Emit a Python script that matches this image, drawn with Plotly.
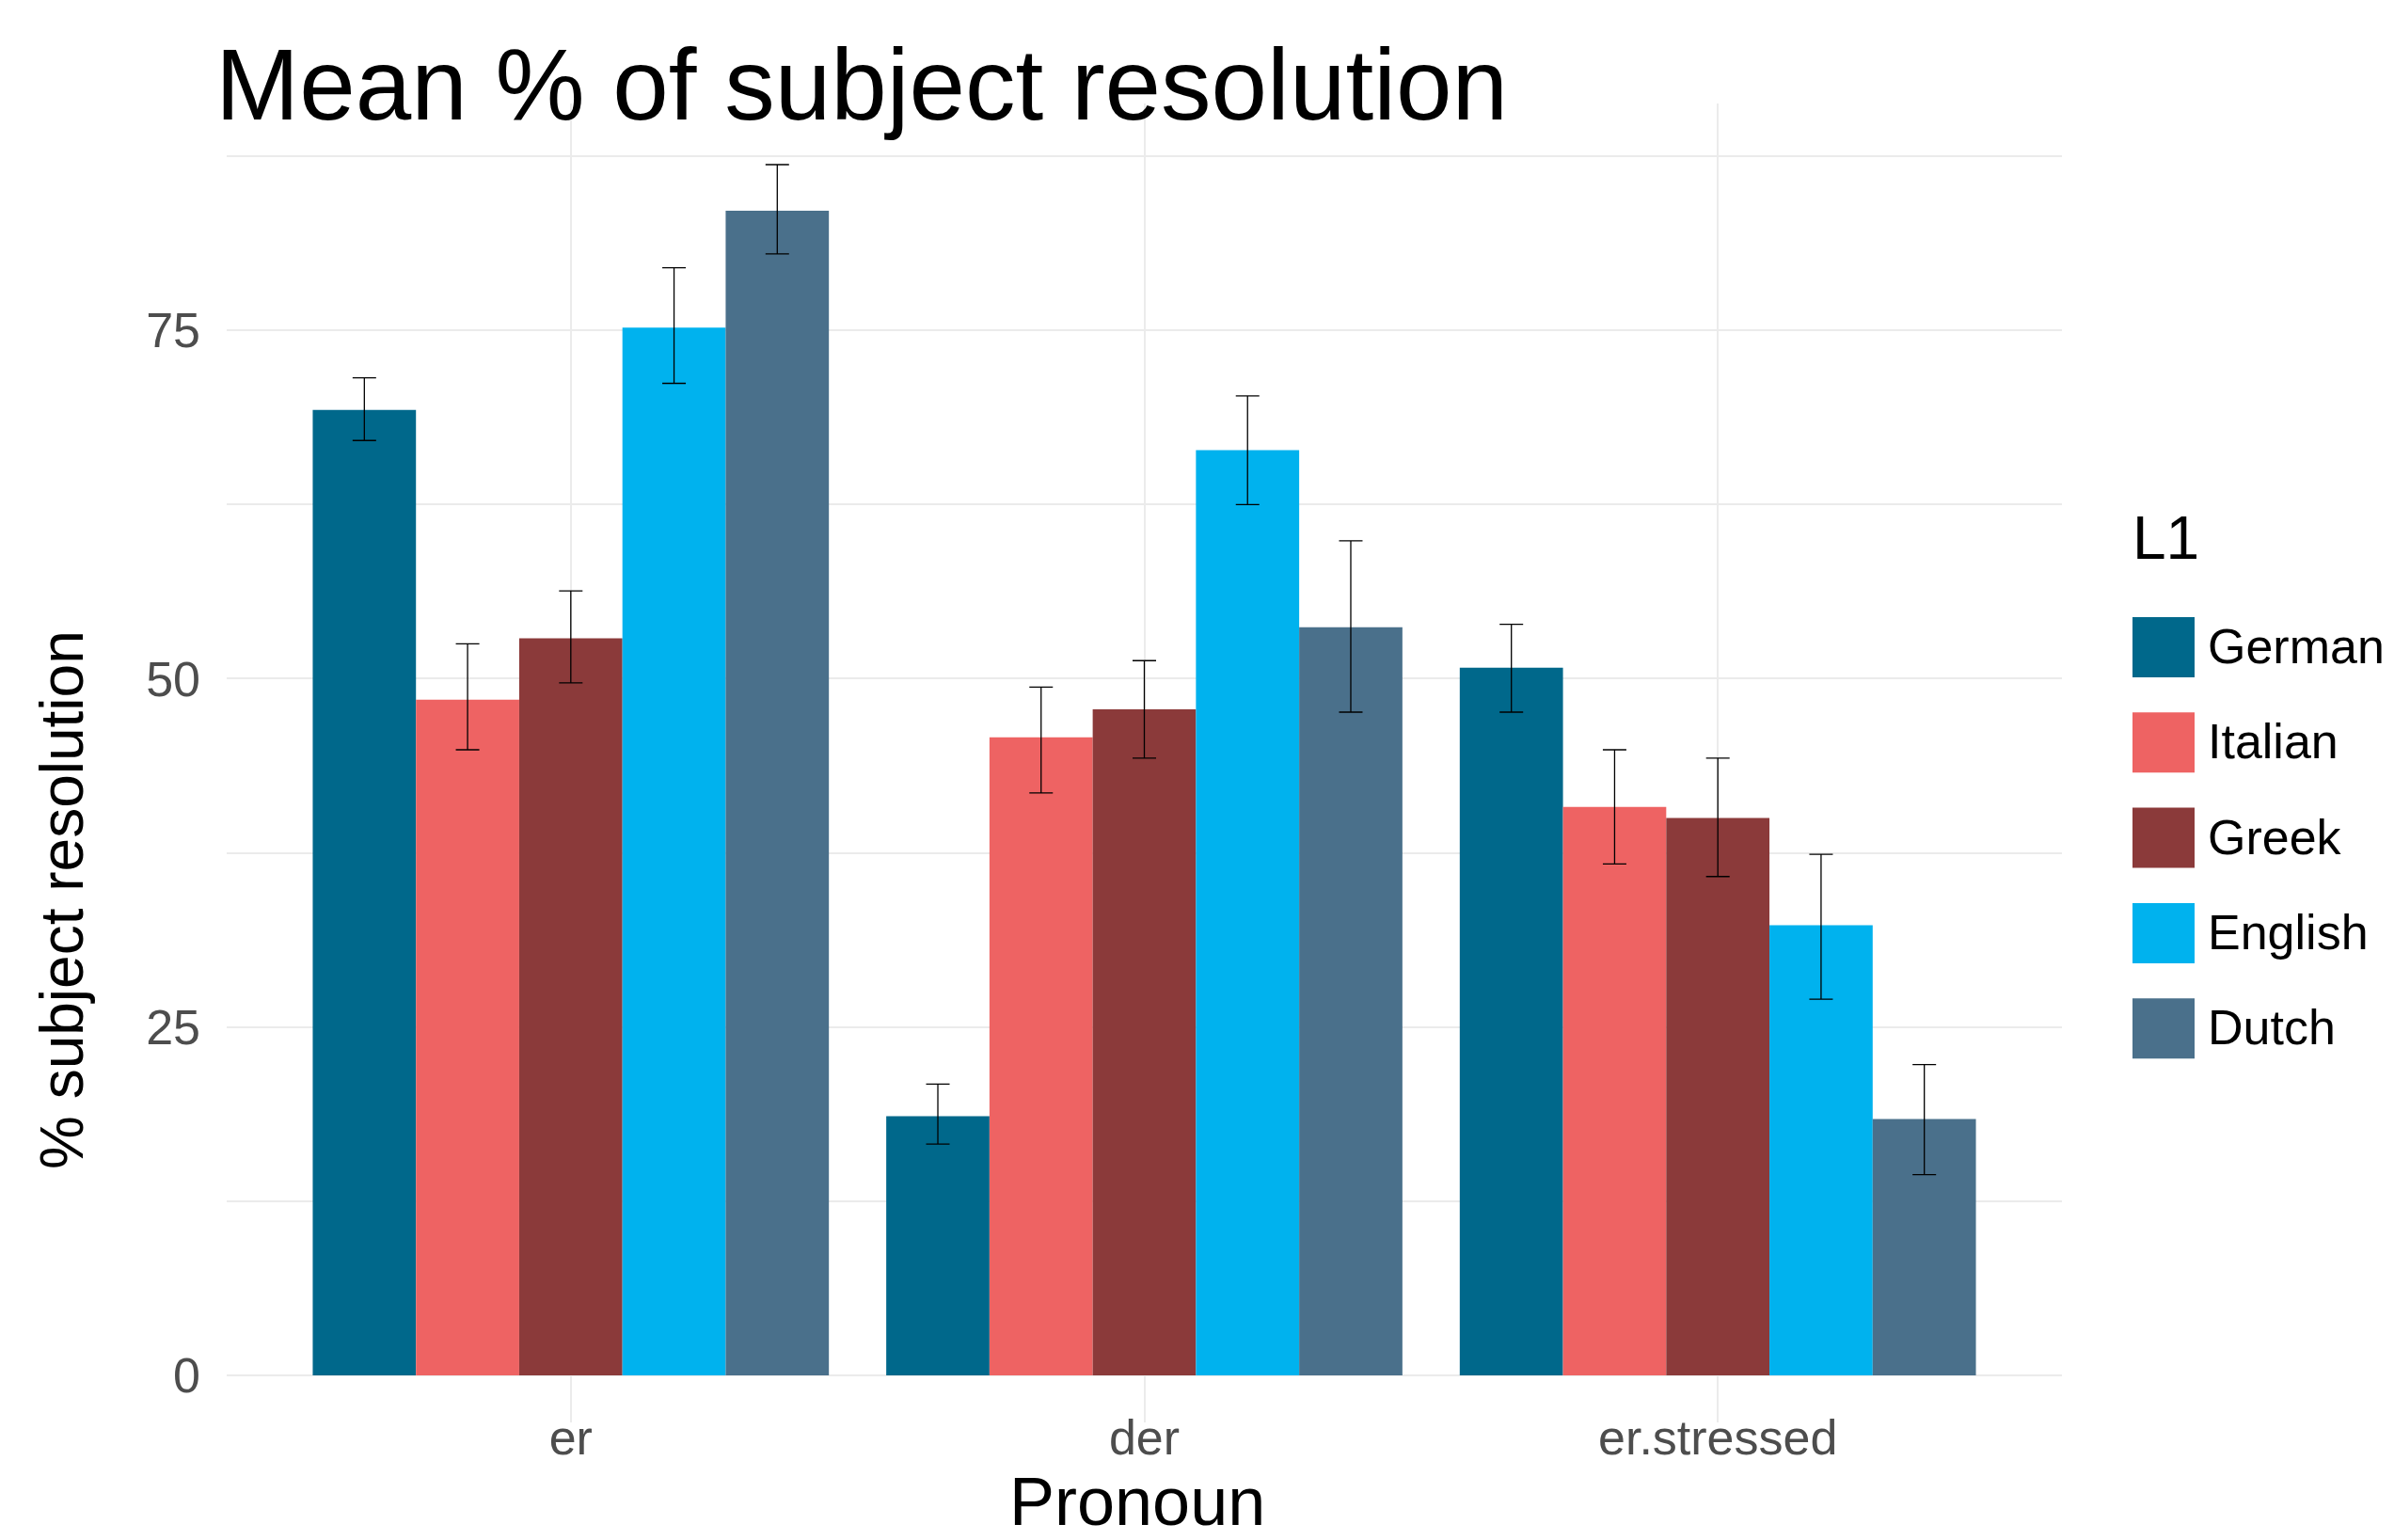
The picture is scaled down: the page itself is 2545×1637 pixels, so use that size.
import plotly.graph_objects as go

# ---------------- data ----------------
pronouns = ["er", "der", "er.stressed"]
groups = ["German", "Italian", "Greek", "English", "Dutch"]
colors = ["#00688B", "#EE6363", "#8B3A3A", "#00B2EE", "#4A708B"]

mean_german = [69.3, 18.6, 50.8]
mean_italian = [48.5, 45.8, 40.8]
mean_greek = [52.9, 47.8, 40.0]
mean_english = [75.2, 66.4, 32.3]
mean_dutch = [83.6, 53.7, 18.4]

upper_german = [71.6, 20.9, 53.9]
upper_italian = [52.5, 49.4, 44.9]
upper_greek = [56.3, 51.3, 44.3]
upper_english = [79.5, 70.3, 37.4]
upper_dutch = [86.9, 59.9, 22.3]

lower_german = [67.1, 16.6, 47.6]
lower_italian = [44.9, 41.8, 36.7]
lower_greek = [49.7, 44.3, 35.8]
lower_english = [71.2, 62.5, 27.0]
lower_dutch = [80.5, 47.6, 14.4]

y_ticks = [0, 25, 50, 75]
y_minor = [12.5, 37.5, 62.5, 87.5]

means = [mean_german, mean_italian, mean_greek, mean_english, mean_dutch]
uppers = [upper_german, upper_italian, upper_greek, upper_english, upper_dutch]
lowers = [lower_german, lower_italian, lower_greek, lower_english, lower_dutch]

# ---------------- layout geometry (pixels) ----------------
W, H = 2545, 1637
L, R, T, B = 241, 2192, 110, 1512
PW, PH = R - L, B - T

def px_x(px):
    return (px - L) / PW

def px_y(py):
    return (B - py) / PH

FONT = "Liberation Sans, Arial, Helvetica, sans-serif"

fig = go.Figure()
for name, col, m, u, lo in zip(groups, colors, means, uppers, lowers):
    fig.add_trace(go.Bar(
        x=pronouns, y=m, name=name,
        marker=dict(color=col, line=dict(width=0)),
        error_y=dict(type="data", symmetric=False,
                     array=[a - b for a, b in zip(u, m)],
                     arrayminus=[b - c for b, c in zip(m, lo)],
                     color="black", thickness=1.3, width=12.5),
        showlegend=False,
    ))

fig.update_layout(
    width=W, height=H,
    margin=dict(l=L, r=W - R, t=T, b=H - B, pad=0),
    paper_bgcolor="white", plot_bgcolor="white",
    barmode="group", bargap=0.1, bargroupgap=0,
    font=dict(family=FONT, color="black"),
    title=dict(text="Mean % of subject resolution",
               font=dict(family=FONT, size=107, color="black"),
               xref="container", x=229 / W, xanchor="left",
               yref="container", y=1 - 127 / H, yanchor="bottom"),
    xaxis=dict(range=[-0.6, 2.6], showgrid=True, gridcolor="#EBEBEB", gridwidth=2,
               ticks="", showline=False, zeroline=False,
               tickfont=dict(family=FONT, size=52, color="#4D4D4D"),
               ticklabelstandoff=-19),
    yaxis=dict(range=[-3.38, 91.29], tickvals=y_ticks, ticktext=[str(v) for v in y_ticks],
               showgrid=True, gridcolor="#EBEBEB", gridwidth=2,
               minor=dict(tickvals=y_minor, showgrid=True, gridcolor="#EBEBEB", gridwidth=1.6),
               ticks="", showline=False, zeroline=False,
               tickfont=dict(family=FONT, size=52, color="#4D4D4D"),
               ticklabelstandoff=27),
)

annotations = [
    dict(text="Pronoun", xref="paper", yref="paper",
         x=px_x(1209), y=px_y(1596), xanchor="center", yanchor="middle",
         showarrow=False, font=dict(family=FONT, size=72, color="black")),
    dict(text="% subject resolution", xref="paper", yref="paper",
         x=px_x(66), y=px_y(957), xanchor="center", yanchor="middle", textangle=-90,
         showarrow=False, font=dict(family=FONT, size=64, color="black")),
    dict(text="L1", xref="paper", yref="paper",
         x=px_x(2265), y=px_y(572), xanchor="left", yanchor="middle",
         showarrow=False, font=dict(family=FONT, size=64, color="black")),
]
shapes = []
key_w, key_h = 66, 64
first_center, pitch = 688, 101.3
for i, (name, col) in enumerate(zip(groups, colors)):
    cy = first_center + i * pitch
    shapes.append(dict(type="rect", xref="paper", yref="paper",
                       x0=px_x(2267), x1=px_x(2267 + key_w),
                       y0=px_y(cy + key_h / 2), y1=px_y(cy - key_h / 2),
                       fillcolor=col, line=dict(width=0)))
    annotations.append(dict(text=name, xref="paper", yref="paper",
                            x=px_x(2345), y=px_y(cy - 1), xanchor="left", yanchor="middle",
                            showarrow=False, font=dict(family=FONT, size=52, color="black")))

fig.update_layout(annotations=annotations, shapes=shapes)
fig.write_html(
    "out.html",
    config={"displayModeBar": False},
    post_script="document.body.style.margin='0';document.body.style.overflow='hidden';",
)
